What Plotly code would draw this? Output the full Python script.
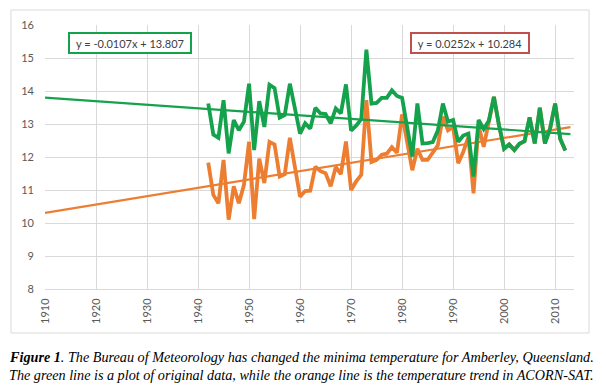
import plotly.graph_objects as go

# ---- data ----
years = list(range(1942, 2013))
original_green = [
    13.62, 12.68, 12.58, 13.72, 12.11, 13.12, 12.81, 13.07, 14.22, 12.21,  # 1942-1951
    13.69, 12.91, 14.19, 14.09, 13.19, 13.27, 14.22, 13.42, 12.71, 13.02,  # 1952-1961
    12.86, 13.49, 13.32, 13.30, 13.02, 13.47, 13.32, 14.20, 12.80, 12.95,  # 1962-1971
    13.15, 15.25, 13.62, 13.64, 13.79, 13.79, 14.02, 13.85, 13.79, 12.90,  # 1972-1981
    12.01, 13.62, 12.41, 12.42, 12.45, 12.80, 13.62, 13.07, 13.12, 12.46,  # 1982-1991
    12.65, 12.71, 11.41, 13.12, 12.85, 13.10, 13.82, 12.96, 12.25, 12.38,  # 1992-2001
    12.21, 12.40, 12.48, 13.20, 12.41, 13.49, 12.41, 12.85, 13.62, 12.55,  # 2002-2011
    12.20,                                                                 # 2012
]
acorn_orange = [
    11.83, 10.85, 10.60, 11.91, 10.10, 11.11, 10.60, 11.15, 12.46, 10.12,  # 1942-1951
    11.95, 11.21, 12.46, 12.38, 11.41, 11.48, 12.58, 11.66, 10.80, 10.97,  # 1952-1961
    10.98, 11.71, 11.57, 11.51, 11.11, 11.70, 11.48, 12.47, 11.00, 11.26,  # 1962-1971
    11.46, 13.72, 11.85, 11.91, 12.07, 12.10, 12.30, 12.13, 13.29, 12.45,  # 1972-1981
    11.60, 12.25, 11.91, 11.91, 12.11, 12.35, 13.22, 12.81, 12.91, 11.81,  # 1982-1991
    12.16, 12.61, 10.90, 12.96, 12.31, 13.10, 13.82, 12.96, 12.25, 12.38,  # 1992-2001
    12.21, 12.40, 12.48, 13.20, 12.41, 13.49, 12.41, 12.85, 13.62, 12.55,  # 2002-2011
    12.20,                                                                 # 2012
]
trend_years = list(range(1910, 2014))
green_slope, green_icept = -0.0107, 13.807
orange_slope, orange_icept = 0.0252, 10.284
green_eq = "y = -0.0107x + 13.807"
orange_eq = "y = 0.0252x + 10.284"
x_ticks = list(range(1910, 2011, 10))
y_ticks = list(range(8, 17))
caption_1 = "<b>Figure 1</b>. The Bureau of Meteorology has changed the minima temperature for Amberley, Queensland."
caption_2 = "The green line is a plot of original data, while the orange line is the temperature trend in ACORN-SAT."

# trend lines from the published equations (x = 1 for 1910)
green_trend = [green_slope * (y - 1909) + green_icept for y in trend_years]
orange_trend = [orange_slope * (y - 1909) + orange_icept for y in trend_years]

GREEN = "#14A24C"
ORANGE = "#ED7D31"
RED = "#C0504D"

W, H = 606, 387
L, R, T, B = 45, 574, 25, 289
X0, X1 = 1910, 2013.7

fig = go.Figure()
fig.add_trace(go.Scatter(x=years, y=acorn_orange, mode="lines",
                         line=dict(color=ORANGE, width=3.8), hoverinfo="skip"))
fig.add_trace(go.Scatter(x=trend_years, y=orange_trend, mode="lines",
                         line=dict(color=ORANGE, width=2.2), hoverinfo="skip"))
fig.add_trace(go.Scatter(x=years, y=original_green, mode="lines",
                         line=dict(color=GREEN, width=3.8), hoverinfo="skip"))
fig.add_trace(go.Scatter(x=trend_years, y=green_trend, mode="lines",
                         line=dict(color=GREEN, width=2.2), hoverinfo="skip"))

def px_to_paper_x(px):
    return (px - L) / (R - L)

def px_to_paper_y(py):
    return (B - py) / (B - T)

tick_font = dict(family="Lato, Carlito, Liberation Sans, sans-serif", size=11, color="#595959")

fig.update_layout(
    width=W, height=H,
    margin=dict(l=L, r=W - R, t=T, b=H - B),
    paper_bgcolor="white", plot_bgcolor="white",
    showlegend=False,
    hovermode=False,
    xaxis=dict(range=[X0, X1], tickvals=x_ticks, ticktext=[str(v) for v in x_ticks],
               tickangle=-90, showgrid=True, gridcolor="#D9D9D9", gridwidth=1,
               showline=True, linecolor="#D9D9D9", linewidth=1, zeroline=False,
               ticks="", tickfont=tick_font, ticklabelstandoff=4),
    yaxis=dict(range=[8, 16], tickvals=y_ticks, showgrid=True, gridcolor="#D9D9D9",
               gridwidth=1, zeroline=False, showline=False, ticks="",
               tickfont=tick_font, ticklabelstandoff=10),
    shapes=[dict(type="rect", xref="paper", yref="paper",
                 x0=px_to_paper_x(11), x1=px_to_paper_x(589),
                 y0=px_to_paper_y(333), y1=px_to_paper_y(10),
                 line=dict(color="#D9D9D9", width=1), fillcolor="rgba(0,0,0,0)",
                 layer="below")],
)

eq_font = dict(family="Lato, Carlito, Liberation Sans, sans-serif", size=11, color="#404040")
fig.add_annotation(x=px_to_paper_x(130), y=px_to_paper_y(43), xref="paper", yref="paper",
                   xanchor="center", yanchor="middle",
                   text=green_eq, showarrow=False, font=eq_font, bgcolor="white",
                   bordercolor=GREEN, borderwidth=2, borderpad=2, width=116, height=14)
fig.add_annotation(x=px_to_paper_x(470), y=px_to_paper_y(43), xref="paper", yref="paper",
                   xanchor="center", yanchor="middle",
                   text=orange_eq, showarrow=False, font=eq_font, bgcolor="white",
                   bordercolor=RED, borderwidth=2, borderpad=2, width=112, height=14)

cap_font = dict(family="Liberation Serif, DejaVu Serif, serif", size=14.2, color="black")
fig.add_annotation(x=px_to_paper_x(7), y=px_to_paper_y(357), xref="paper", yref="paper",
                   xanchor="left", yanchor="middle", text="<i>" + caption_1 + "</i>",
                   showarrow=False, font=cap_font)
fig.add_annotation(x=px_to_paper_x(7), y=px_to_paper_y(375), xref="paper", yref="paper",
                   xanchor="left", yanchor="middle", text="<i>" + caption_2 + "</i>",
                   showarrow=False, font=cap_font)

fig.write_html("out.html", config={"displayModeBar": False, "staticPlot": True},
               post_script="document.body.style.margin='0';document.body.style.padding='0';")
